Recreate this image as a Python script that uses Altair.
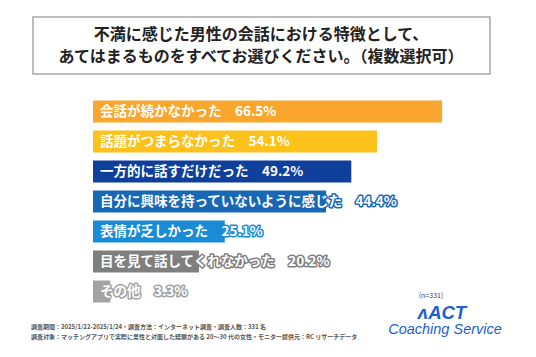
import altair as alt
import pandas as pd

categories = [
    "会話が続かなかった",
    "話題がつまらなかった",
    "一方的に話すだけだった",
    "自分に興味を持っていないように感じた",
    "表情が乏しかった",
    "目を見て話してくれなかった",
    "その他",
]
values = [66.5, 54.1, 49.2, 44.4, 25.1, 20.2, 3.3]
colors = ["#F8A62E", "#FCC11A", "#0E3F9B", "#1868B6", "#1A8CD7", "#7F7F7F", "#A3A3A3"]
title_lines = [
    "不満に感じた男性の会話における特徴として、",
    "あてはまるものをすべてお選びください。（複数選択可）",
]
footer_lines = [
    "調査期間：2025/1/22-2025/1/24・調査方法：インターネット調査・調査人数：331 名",
    "調査対象：マッチングアプリで実際に男性と対面した経験がある 20～30 代の女性・モニター提供元：RC リサーチデータ",
]
sample_note = "(n=331)"
logo_top = "ʌACT"
logo_bottom = "Coaching Service"

df = pd.DataFrame({
    "cat": categories,
    "val": values,
    "color": colors,
    "idx": list(range(len(categories))),
})
df["label"] = [f"{c}　{v:.1f}%" for c, v in zip(categories, values)]

W, H = 520, 341
px_per = 5.25
x0 = 85
xscale = alt.Scale(domain=[-x0 / px_per, (W - x0) / px_per], nice=False, zero=False)
yc0 = 103.5
step = 30
yscale = alt.Scale(domain=[-yc0 / step, (H - yc0) / step], nice=False, zero=False, reverse=True)
half = 11 / step
pix = alt.Scale(domain=[0, H], range=[0, H])

base = alt.Chart(df).transform_calculate(
    y0=f"datum.idx - {half}", y1=f"datum.idx + {half}", zero="0"
)

bars = base.mark_rect().encode(
    x=alt.X("val:Q", scale=xscale, axis=None),
    x2="zero:Q",
    y=alt.Y("y0:Q", scale=yscale, axis=None),
    y2="y1:Q",
    color=alt.Color("color:N", scale=None),
)

FONT = "Noto Sans CJK JP"
outline = base.mark_text(
    align="left", baseline="middle", dx=7, font=FONT, fontWeight="bold",
    fontSize=13.5, strokeWidth=3, strokeJoin="round", fill="white",
).encode(
    x=alt.X("zero:Q", scale=xscale, axis=None),
    y=alt.Y("idx:Q", scale=yscale, axis=None),
    text="label:N",
    stroke=alt.Stroke("color:N", scale=None),
)

fill_text = base.mark_text(
    align="left", baseline="middle", dx=7, font=FONT, fontWeight="bold",
    fontSize=13.5, color="white",
).encode(
    x=alt.X("zero:Q", scale=xscale, axis=None),
    y=alt.Y("idx:Q", scale=yscale, axis=None),
    text="label:N",
)

box = alt.Chart(pd.DataFrame({"a": [0]})).mark_rect(
    fill="white", stroke="#A8A8A8", strokeWidth=1.5
).encode(x=alt.value(25), x2=alt.value(482), y=alt.value(9), y2=alt.value(66))

tdf = pd.DataFrame({"t": title_lines, "yy": [27, 49]})
title = alt.Chart(tdf).mark_text(
    align="center", baseline="middle", font=FONT, fontWeight="bold", fontSize=16, color="#222222"
).encode(x=alt.value(253), y=alt.Y("yy:Q", scale=pix, axis=None), text="t:N")

fdf = pd.DataFrame({"t": footer_lines, "yy": [319, 329]})
footer = alt.Chart(fdf).mark_text(
    align="left", baseline="middle", font=FONT, fontWeight="bold", fontSize=6, color="#555555"
).encode(x=alt.value(23), y=alt.Y("yy:Q", scale=pix, axis=None), text="t:N")

note = alt.Chart(pd.DataFrame({"t": [sample_note]})).mark_text(
    align="center", baseline="middle", font=FONT, fontSize=7, color="#444444"
).encode(x=alt.value(423), y=alt.value(288), text="t:N")

logo1 = alt.Chart(pd.DataFrame({"t": [logo_top]})).mark_text(
    align="center", baseline="middle", font="Liberation Sans", fontStyle="italic",
    fontWeight="bold", fontSize=18.5, color="#1E5FD0"
).encode(x=alt.value(434), y=alt.value(305), text="t:N")

logo2 = alt.Chart(pd.DataFrame({"t": [logo_bottom]})).mark_text(
    align="center", baseline="middle", font="Liberation Sans", fontStyle="italic",
    fontSize=14.5, color="#1E5FD0"
).encode(x=alt.value(437), y=alt.value(322), text="t:N")

chart = alt.layer(box, title, bars, outline, fill_text, footer, note, logo1, logo2).resolve_scale(
    y="independent"
).properties(
    width=W, height=H, autosize=alt.AutoSizeParams(type="none"), padding=0, background="white"
).configure_view(strokeWidth=0)

chart.save("out.html", embed_options={"renderer": "svg", "actions": False})
